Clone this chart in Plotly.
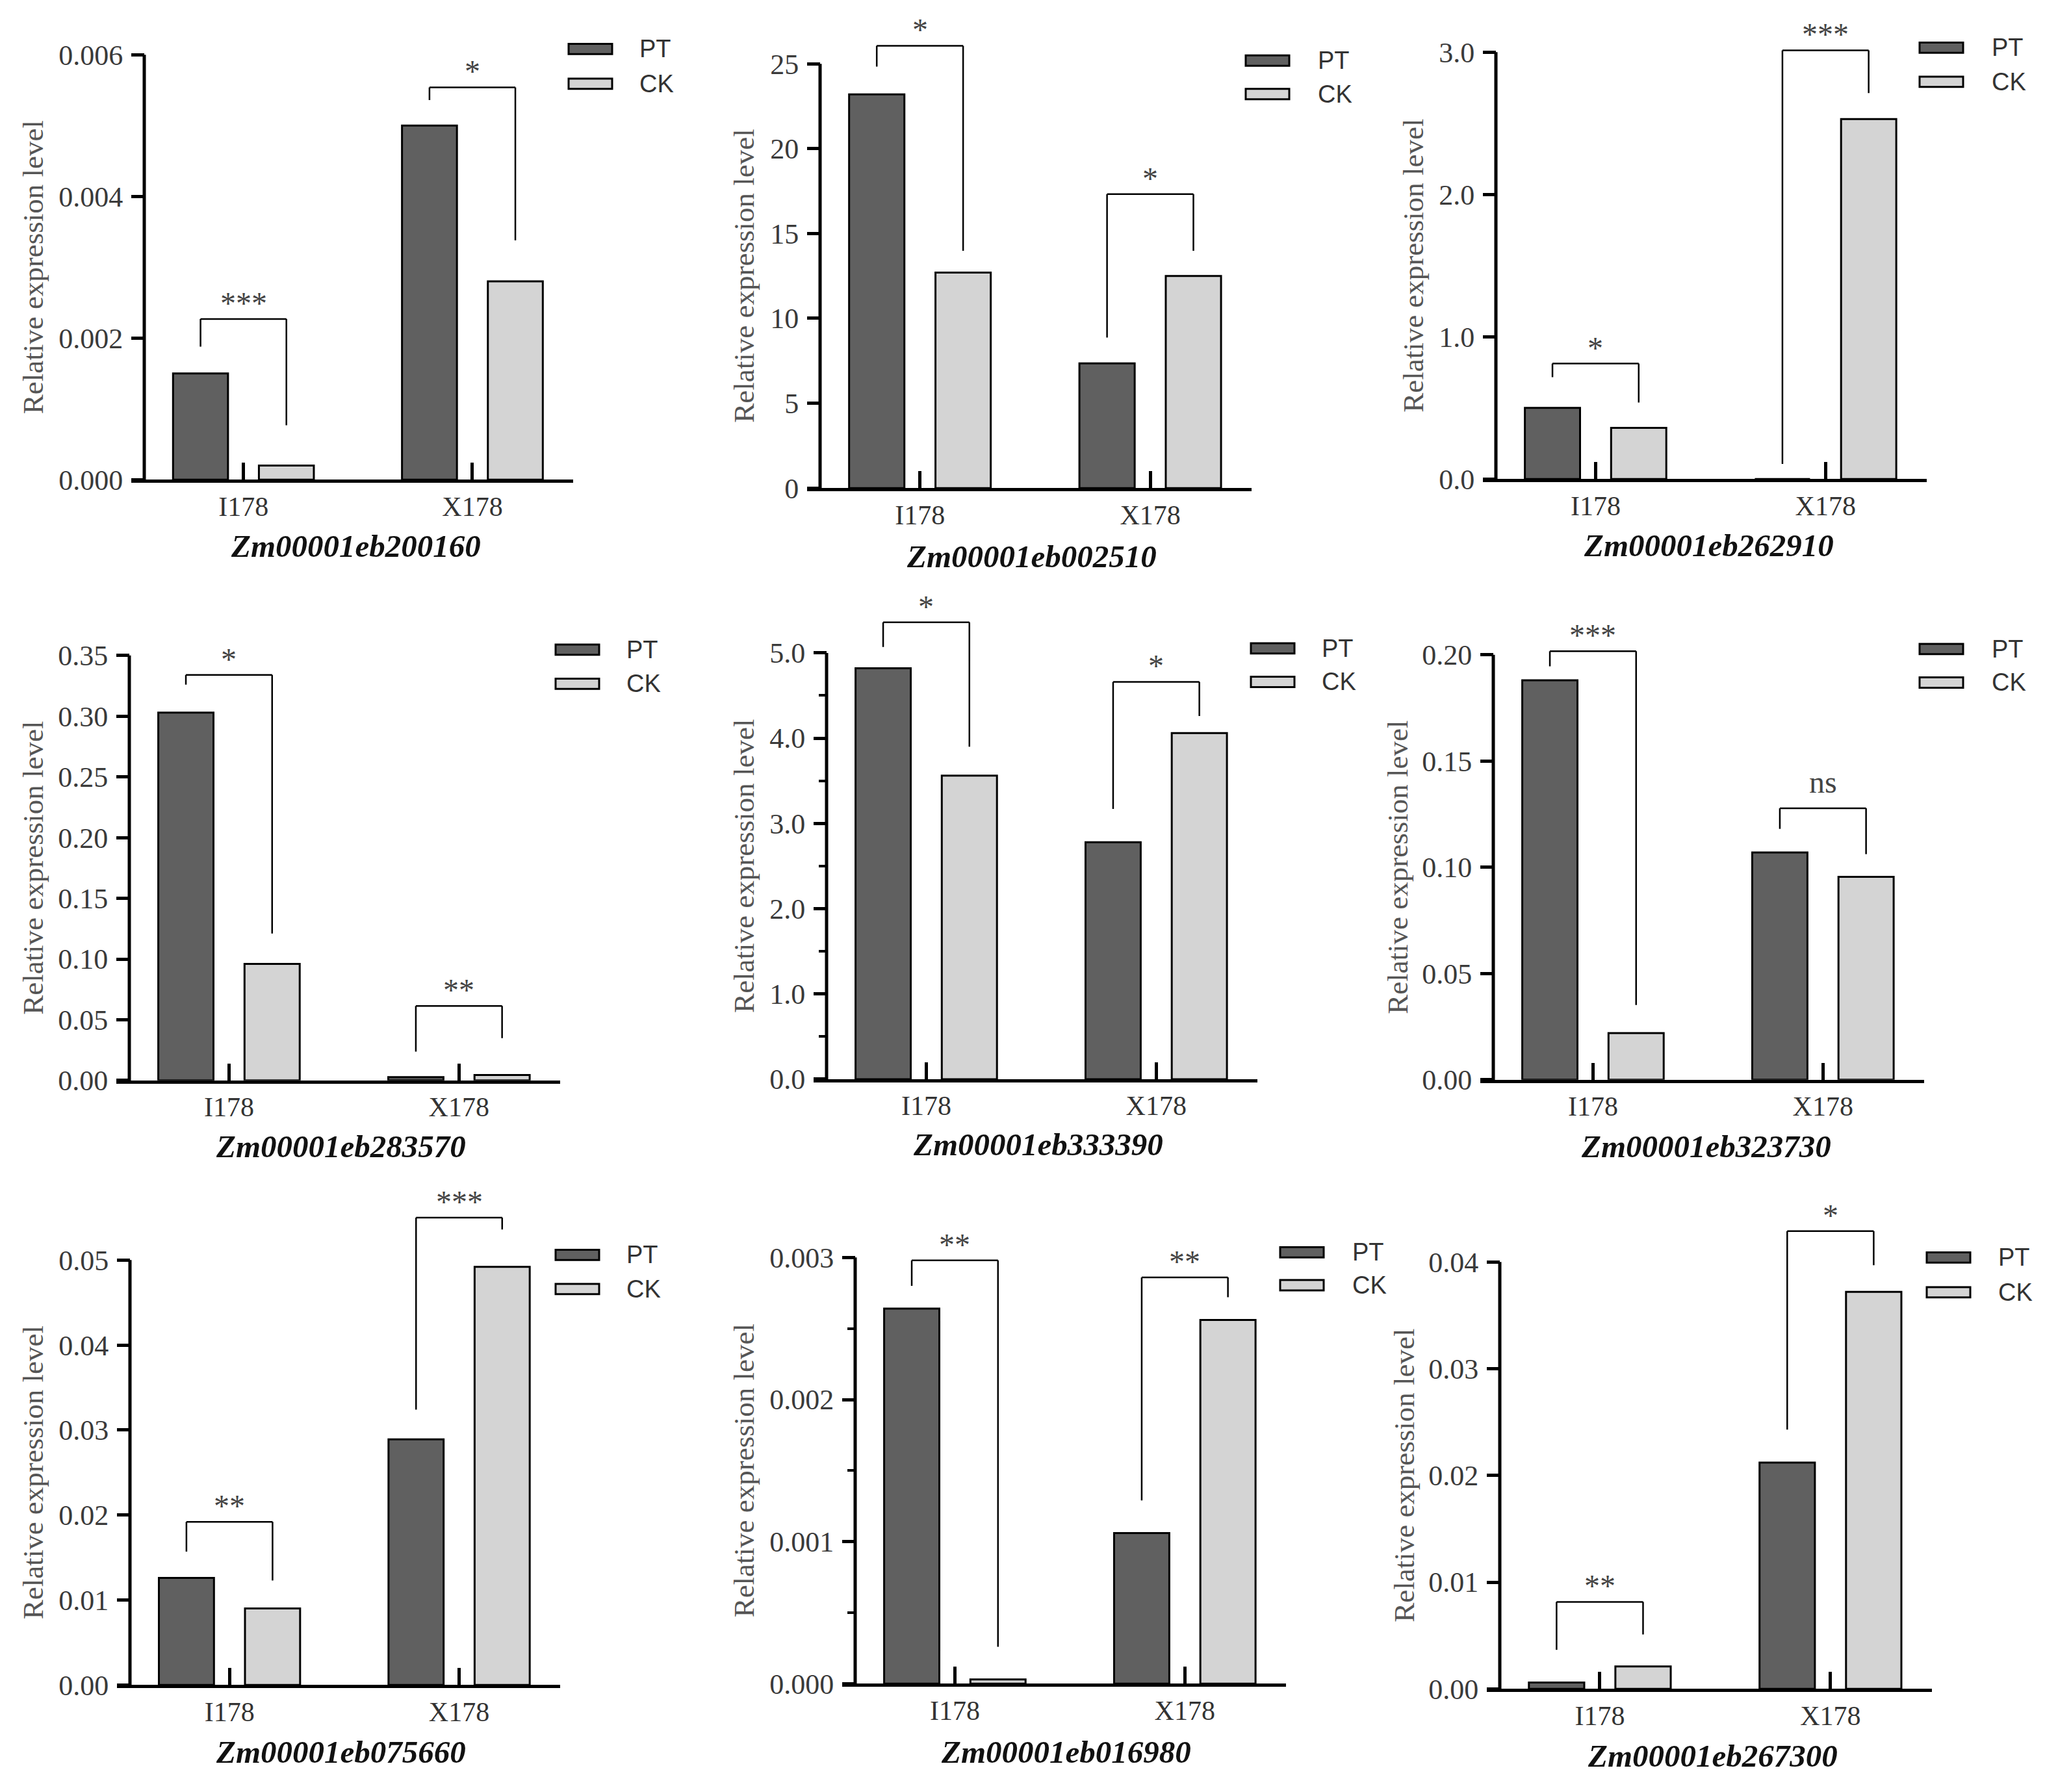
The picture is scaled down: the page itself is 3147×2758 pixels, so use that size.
import plotly.graph_objects as go

W, H = 3147, 2758

genes = ["Zm00001eb200160", "Zm00001eb002510", "Zm00001eb262910",
         "Zm00001eb283570", "Zm00001eb333390", "Zm00001eb323730",
         "Zm00001eb075660", "Zm00001eb016980", "Zm00001eb267300"]
categories = ["I178", "X178"]
series_names = ["PT", "CK"]

# relative expression, [I178, X178] per gene
pt_values = [[0.0015, 0.0050], [23.2, 7.35], [0.50, 0.0],
             [0.303, 0.0027], [4.82, 2.78], [0.188, 0.107],
             [0.0126, 0.0289], [0.00264, 0.00106], [0.0006, 0.0212]]
ck_values = [[0.0002, 0.0028], [12.7, 12.5], [0.36, 2.53],
             [0.096, 0.0045], [3.56, 4.06], [0.022, 0.0955],
             [0.009, 0.0492], [0.00003, 0.00256], [0.0021, 0.0372]]

y_max = [0.006, 25, 3.0, 0.35, 5.0, 0.20, 0.05, 0.003, 0.04]
y_dtick = [0.002, 5, 1.0, 0.05, 1.0, 0.05, 0.01, 0.001, 0.01]
y_minor = [None, None, None, None, 0.5, None, None, 0.0005, None]
tick_fmt = [".3f", ".0f", ".1f", ".2f", ".1f", ".2f", ".2f", ".3f", ".2f"]

# significance brackets: label, bar height, left leg end, right leg end
sig_labels = [["***", "*"], ["*", "*"], ["*", "***"],
              ["*", "**"], ["*", "*"], ["***", "ns"],
              ["**", "***"], ["**", "**"], ["**", "*"]]
bracket_top = [[0.00227, 0.00554], [26.06, 17.32], [0.812, 3.013],
               [0.334, 0.0613], [5.36, 4.66], [0.2017, 0.1278],
               [0.0192, 0.0550], [0.00298, 0.00286], [0.00815, 0.0429]]
bracket_left = [[0.00188, 0.00536], [24.83, 8.87], [0.716, 0.107],
                [0.326, 0.0238], [5.07, 3.17], [0.1946, 0.1181],
                [0.0157, 0.0324], [0.0028, 0.00129], [0.00366, 0.0243]]
bracket_right = [[0.00077, 0.00338], [13.98, 13.98], [0.538, 2.713],
                 [0.121, 0.0348], [3.90, 4.26], [0.0352, 0.1062],
                 [0.0123, 0.0536], [0.00026, 0.00272], [0.0051, 0.0397]]

# panel boxes in pixels: y axis x, x axis end, y of zero, y of top tick
boxes = [(214, 874, 737, 77), (1254, 1918, 750, 91), (2294, 2957, 736, 73),
         (191, 854, 1670, 1010), (1264, 1927, 1668, 1006), (2290, 2953, 1669, 1009),
         (192, 854, 2609, 1949), (1308, 1971, 2607, 1945), (2300, 2965, 2615, 1952)]
# legend: box left, PT centre y, CK centre y, text x
legend_pos = [(867, 68, 122, 974), (1909, 86, 138, 2018), (2946, 66, 119, 3055),
              (847, 1001, 1054, 954), (1917, 999, 1051, 2024), (2946, 1000, 1052, 3055),
              (847, 1941, 1994, 954), (1962, 1937, 1988, 2071), (2957, 1945, 1999, 3065)]
gene_pos = [(539, 840), (1579, 856), (2621, 839),
            (516, 1773), (1589, 1770), (2617, 1773),
            (516, 2713), (1632, 2713), (2627, 2719)]
ytitle_x = [43, 1137, 2167, 43, 1137, 2143, 43, 1137, 2153]

PT_COLOR = "#606060"
CK_COLOR = "#d4d4d4"
SERIF = "Liberation Serif"
SANS = "Liberation Sans"
BARGAP = 0.25
EXT = 150

fig = go.Figure()
shapes = []
annotations = []
axes = {}
half = (1 - BARGAP) / 4

for i in range(9):
    n = i + 1
    xa = "x" if n == 1 else "x%d" % n
    ya = "y" if n == 1 else "y%d" % n
    left, right, bottom, top = boxes[i]
    ext = min(EXT, top - 1)
    y_top_ext = y_max[i] * (bottom - top + ext) / (bottom - top)

    for name, vals, col in [("PT", pt_values[i], PT_COLOR), ("CK", ck_values[i], CK_COLOR)]:
        fig.add_trace(go.Bar(x=categories, y=vals, name=name, xaxis=xa, yaxis=ya,
                             marker=dict(color=col, line=dict(color="black", width=3)),
                             showlegend=False))

    nt = int(round(y_max[i] / y_dtick[i]))
    tickvals = [k * y_dtick[i] for k in range(nt + 1)]
    ticktext = [format(v, tick_fmt[i]) for v in tickvals]

    axes["xaxis" if n == 1 else "xaxis%d" % n] = dict(
        domain=[(left - 20) / W, right / W], anchor=ya, type="category",
        range=[-0.49, 1.44], showline=True, linewidth=5, linecolor="black",
        ticks="inside", ticklen=26, tickwidth=5, tickcolor="black",
        tickfont=dict(family=SERIF, size=42, color="#333333"),
        showgrid=False, zeroline=False)
    yax = dict(
        domain=[1 - bottom / H, 1 - (top - ext) / H], anchor="free", position=left / W,
        range=[0, y_top_ext], tickmode="array", tickvals=tickvals, ticktext=ticktext,
        ticks="outside", ticklen=20, tickwidth=5, tickcolor="black",
        tickfont=dict(family=SERIF, size=44, color="#3a3a3a"),
        showline=False, showgrid=False, zeroline=False, ticklabelstandoff=4)
    if y_minor[i]:
        nm = int(round(y_max[i] / y_minor[i]))
        mv = [k * y_minor[i] for k in range(nm + 1) if k % 2 == 1]
        yax["minor"] = dict(tickmode="array", tickvals=mv, ticks="outside",
                            ticklen=12, tickwidth=4, tickcolor="black")
    axes["yaxis" if n == 1 else "yaxis%d" % n] = yax

    # y axis line only up to top tick
    shapes.append(dict(type="line", xref="paper", yref="paper",
                       x0=left / W, x1=left / W, y0=1 - (bottom + 2.5) / H, y1=1 - top / H,
                       line=dict(color="black", width=5)))

    # significance brackets
    for j in range(2):
        xl, xr = j - half, j + half
        yt = bracket_top[i][j]
        for x0, y0, x1, y1 in [(xl, bracket_left[i][j], xl, yt), (xl, yt, xr, yt),
                               (xr, yt, xr, bracket_right[i][j])]:
            shapes.append(dict(type="line", xref=xa, yref=ya, x0=x0, y0=y0, x1=x1, y1=y1,
                               line=dict(color="black", width=2.5)))
        lab = sig_labels[i][j]
        annotations.append(dict(x=j, y=yt, xref=xa, yref=ya, text=lab, showarrow=False,
                                xanchor="center", yanchor="bottom",
                                yshift=12 if lab == "ns" else -4,
                                font=dict(family=SERIF, size=48, color="#444444")))

    # legend
    lx, pty, cky, tx = legend_pos[i]
    for cy, col, name in [(pty, PT_COLOR, "PT"), (cky, CK_COLOR, "CK")]:
        shapes.append(dict(type="rect", xref="paper", yref="paper",
                           x0=lx / W, x1=(lx + 67) / W, y0=1 - (cy + 8) / H, y1=1 - (cy - 8) / H,
                           fillcolor=col, line=dict(color="black", width=3)))
        annotations.append(dict(x=tx / W, y=1 - cy / H, xref="paper", yref="paper", text=name,
                                showarrow=False, xanchor="left", yanchor="middle",
                                font=dict(family=SANS, size=38, color="#333333")))

    # gene label and y title
    gx, gy = gene_pos[i]
    annotations.append(dict(x=gx / W, y=1 - gy / H, xref="paper", yref="paper",
                            text="<b><i>%s</i></b>" % genes[i], showarrow=False,
                            xanchor="center", yanchor="middle",
                            font=dict(family=SERIF, size=49, color="#111111")))
    annotations.append(dict(x=ytitle_x[i] / W, y=1 - (top + bottom) / 2 / H,
                            xref="paper", yref="paper", text="Relative expression level",
                            textangle=-90, showarrow=False, xanchor="center", yanchor="middle",
                            font=dict(family=SERIF, size=45, color="#555555")))

fig.update_layout(**axes)
fig.update_layout(width=W, height=H, margin=dict(l=0, r=0, t=0, b=0),
                  paper_bgcolor="white", plot_bgcolor="white", showlegend=False,
                  barmode="group", bargap=BARGAP, bargroupgap=0.36,
                  shapes=shapes, annotations=annotations)

fig.write_html("out.html")
